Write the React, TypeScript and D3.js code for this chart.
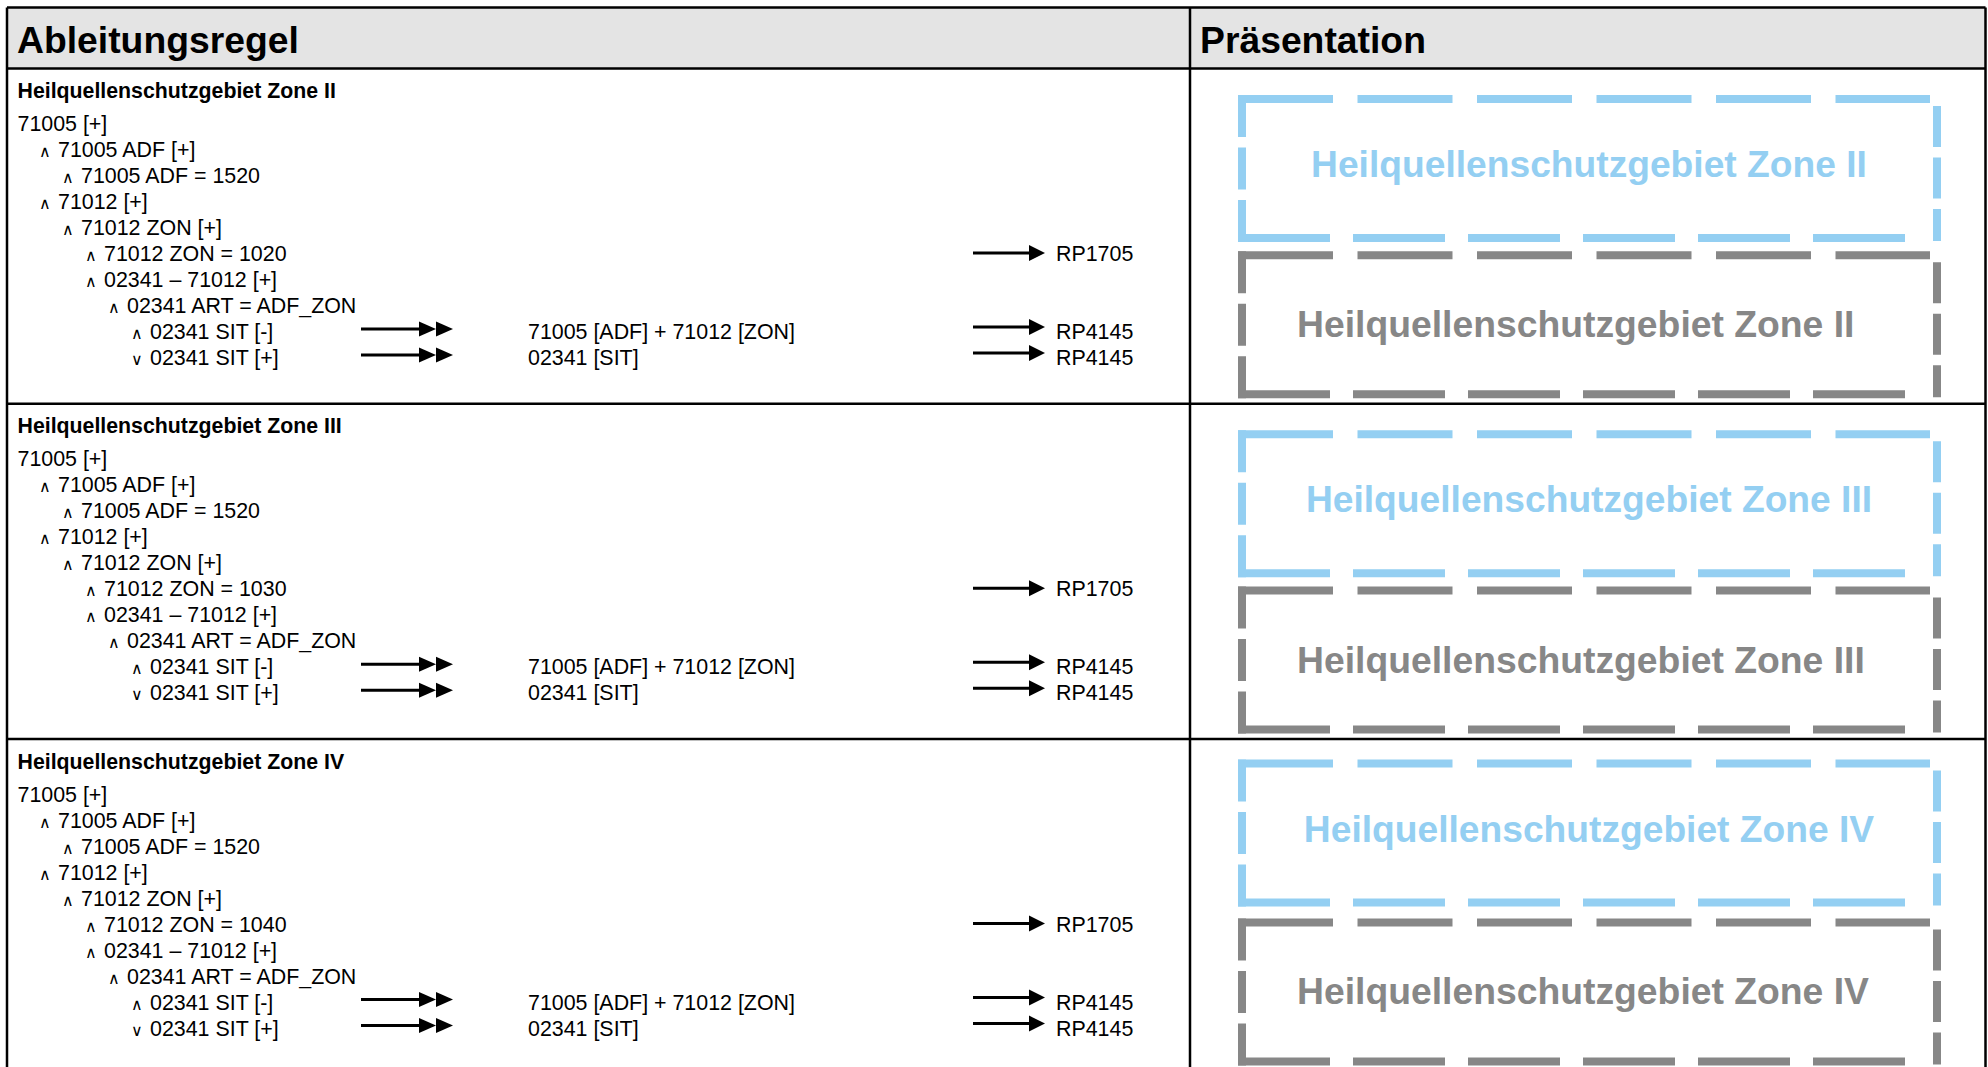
import React from "react";
import * as d3 from "d3";

// ---------- data ----------
const headers = ["Ableitungsregel", "Präsentation"];
const zoneNames = [
  "Heilquellenschutzgebiet Zone II",
  "Heilquellenschutzgebiet Zone III",
  "Heilquellenschutzgebiet Zone IV",
];
const zonValues = ["1020", "1030", "1040"];
const treeLevels = [0, 1, 2, 1, 2, 3, 3, 4, 5, 5];
const treeOps = ["", "∧", "∧", "∧", "∧", "∧", "∧", "∧", "∧", "∨"];
const treeTexts = [
  "71005 [+]",
  "71005 ADF [+]",
  "71005 ADF = 1520",
  "71012 [+]",
  "71012 ZON [+]",
  "71012 ZON = {ZON}",
  "02341 – 71012 [+]",
  "02341 ART = ADF_ZON",
  "02341 SIT [-]",
  "02341 SIT [+]",
];
const mappingLines = [8, 9];
const mappingTargets = ["71005 [ADF] + 71012 [ZON]", "02341 [SIT]"];
const ruleLines = [5, 8, 9];
const ruleCodes = ["RP1705", "RP4145", "RP4145"];

// ---------- layout ----------
const W = 1988;
const H = 1067;
const L = 7;
const T = 7.5;
const R = 1985.5;
const HEAD_B = 68.5;
const COL = 1190;
const ROW_H = 335.3;
const FONT = "'Liberation Sans', Arial, sans-serif";
const BLUE = "#94cff2";
const GRAY = "#878787";
const FS = 21.4;
const boxShift = [[0, 0], [0, 0], [-6, -3.5]]; // per-row vertical nudges (blue, gray)

const rowY = d3.scaleLinear().domain([0, 1]).range([HEAD_B, HEAD_B + ROW_H]);
const lineY = d3.scaleLinear().domain([0, 1]).range([62.5, 88.5]);
const levelX = d3.scaleLinear().domain([1, 2]).range([58, 81]);

function textX(level: number) {
  return level === 0 ? 17.5 : levelX(level);
}

function DashedBox({ top, color, textStr, textMode }: { top: number; color: string; textStr: string; textMode: "center" | "left" }) {
  const x0 = 1238;
  const lx = 1242;
  const rx = 1937;
  const tY = top;
  const bY = top + 139;
  const sw = 8;
  return (
    <g>
      <line x1={x0} x2={1930} y1={tY} y2={tY} stroke={color} strokeWidth={sw} strokeDasharray="95 24.5" />
      <line x1={lx} x2={lx} y1={tY - 4} y2={bY + 4} stroke={color} strokeWidth={sw} strokeDasharray="42 10.5" />
      <line x1={x0} x2={1907} y1={bY} y2={bY} stroke={color} strokeWidth={sw} strokeDasharray="92 23" />
      <line x1={rx} x2={rx} y1={tY + 7} y2={bY + 3} stroke={color} strokeWidth={sw} strokeDasharray="41 10.5" />
      {textMode === "center" ? (
        <text x={1589} y={tY + 78} textAnchor="middle" fontFamily={FONT} fontWeight="bold" fontSize={37.2} fill={color}>
          {textStr}
        </text>
      ) : (
        <text x={1297} y={tY + 82} textAnchor="start" fontFamily={FONT} fontWeight="bold" fontSize={37.3} fill={color}>
          {textStr}
        </text>
      )}
    </g>
  );
}

function Row({ r }: { r: number }) {
  const top = rowY(r);
  const base = (i: number) => top + lineY(i);
  return (
    <g>
      <text x={17.5} y={top + 29.5} fontFamily={FONT} fontWeight="bold" fontSize={21.3} fill="#000">
        {zoneNames[r]}
      </text>
      {treeTexts.map((t, i) => {
        const lv = treeLevels[i];
        const x = textX(lv);
        const str = t.replace("{ZON}", zonValues[r]);
        return (
          <g key={i}>
            {treeOps[i] && (
              <text x={x - 19} y={base(i)} fontFamily="'DejaVu Sans', sans-serif" fontSize={16} fill="#000">
                {treeOps[i]}
              </text>
            )}
            <text x={x} y={base(i)} fontFamily={FONT} fontSize={FS} fill="#000">
              {str}
            </text>
          </g>
        );
      })}
      {mappingLines.map((li, k) => {
        const y = base(li) - 10;
        return (
          <g key={"m" + k}>
            <line x1={361} x2={421} y1={y} y2={y} stroke="#000" strokeWidth={3} />
            <path d={`M419,${y - 7.5}L436,${y}L419,${y + 7.5}Z`} fill="#000" />
            <path d={`M436,${y - 7.5}L453,${y}L436,${y + 7.5}Z`} fill="#000" />
            <text x={528} y={base(li)} fontFamily={FONT} fontSize={FS} fill="#000">
              {mappingTargets[k]}
            </text>
          </g>
        );
      })}
      {ruleLines.map((li, k) => {
        const y = base(li) - (k === 0 ? 8 : 12);
        return (
          <g key={"r" + k}>
            <line x1={973} x2={1031} y1={y} y2={y} stroke="#000" strokeWidth={3} />
            <path d={`M1029,${y - 8}L1045,${y}L1029,${y + 8}Z`} fill="#000" />
            <text x={1056} y={base(li)} fontFamily={FONT} fontSize={FS} fill="#000">
              {ruleCodes[k]}
            </text>
          </g>
        );
      })}
      <DashedBox top={top + 30.5 + boxShift[r][0]} color={BLUE} textStr={zoneNames[r]} textMode="center" />
      <DashedBox top={top + 186.8 + boxShift[r][1]} color={GRAY} textStr={zoneNames[r]} textMode="left" />
    </g>
  );
}

export default function App() {
  const rows = [0, 1, 2];
  return (
    <svg width={W} height={H} style={{ position: "absolute", left: 0, top: 0, background: "#fff" }}>
      <rect x={0} y={0} width={W} height={H} fill="#fff" />
      <rect x={L} y={T} width={R - L} height={HEAD_B - T} fill="#e4e4e4" />
      <text x={17} y={53} fontFamily={FONT} fontWeight="bold" fontSize={37.3} fill="#000">
        {headers[0]}
      </text>
      <text x={1200} y={53} fontFamily={FONT} fontWeight="bold" fontSize={37.3} fill="#000">
        {headers[1]}
      </text>
      {rows.map((r) => (
        <Row key={r} r={r} />
      ))}
      {/* grid lines */}
      <line x1={L} x2={R} y1={T} y2={T} stroke="#000" strokeWidth={2.5} />
      <line x1={L} x2={L} y1={T} y2={H + 10} stroke="#000" strokeWidth={2.5} />
      <line x1={R} x2={R} y1={T} y2={H + 10} stroke="#000" strokeWidth={2.5} />
      <line x1={COL} x2={COL} y1={T} y2={H + 10} stroke="#000" strokeWidth={2.5} />
      {[0, 1, 2].map((r) => (
        <line key={r} x1={L} x2={R} y1={rowY(r)} y2={rowY(r)} stroke="#000" strokeWidth={2.5} />
      ))}
    </svg>
  );
}
